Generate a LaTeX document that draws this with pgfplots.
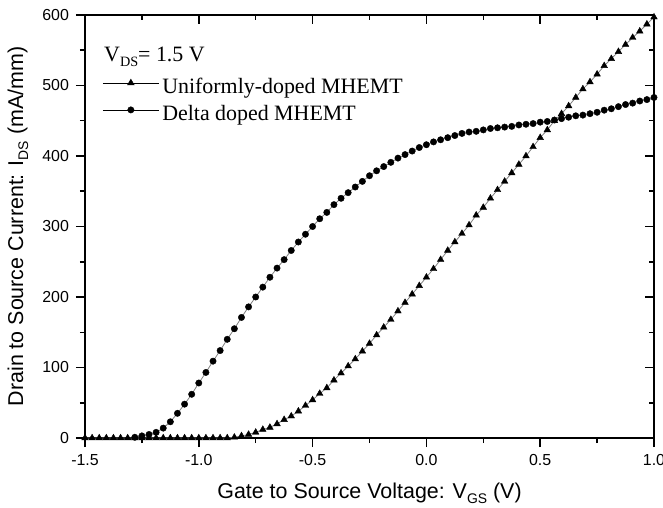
\documentclass[border=0pt]{standalone}
\usepackage{fontspec}
\setmainfont{Liberation Sans}
\newfontfamily\tms{Liberation Serif}
\usepackage{pgfplots}
\usepackage{pgfplotstable}
\pgfplotsset{compat=1.18}

% uniformly-doped MHEMT (triangles)
\pgfplotstableread{
x ids
-1.5 0
-1.46875 0
-1.4375 0
-1.40625 0
-1.375 0
-1.34375 0
-1.3125 0
-1.28125 0
-1.25 0
-1.21875 0
-1.1875 0
-1.15625 0
-1.125 0
-1.09375 0
-1.0625 0
-1.03125 0
-1.0 0
-0.96875 0
-0.9375 0
-0.90625 0
-0.875 0
-0.84375 1
-0.8125 3
-0.78125 5
-0.75 8
-0.71875 12
-0.6875 15
-0.65625 20
-0.625 26
-0.59375 31
-0.5625 38
-0.53125 46
-0.5 54
-0.46875 63
-0.4375 71
-0.40625 82
-0.375 92
-0.34375 102
-0.3125 112
-0.28125 123
-0.25 134
-0.21875 146
-0.1875 157
-0.15625 168
-0.125 180
-0.09375 192
-0.0625 204
-0.03125 216
0 228
0.03125 240
0.0625 253
0.09375 266
0.125 278
0.15625 290
0.1875 302
0.21875 316
0.25 327
0.28125 340
0.3125 352
0.34375 364
0.375 376
0.40625 388
0.4375 400
0.46875 413
0.5 426
0.53125 437
0.5625 450
0.59375 460
0.625 471
0.65625 483
0.6875 495
0.71875 505
0.75 516
0.78125 528
0.8125 538
0.84375 548
0.875 558
0.90625 568
0.9375 577
0.96875 587
1.0 597
}\uniform

% delta doped MHEMT (circles)
\pgfplotstableread{
x ids
-1.28125 1
-1.25 3
-1.21875 5
-1.1875 8
-1.15625 14
-1.125 23
-1.09375 35
-1.0625 48
-1.03125 62
-1.0 78
-0.96875 93
-0.9375 109
-0.90625 124
-0.875 140
-0.84375 155
-0.8125 171
-0.78125 186
-0.75 200
-0.71875 214
-0.6875 228
-0.65625 241
-0.625 253
-0.59375 266
-0.5625 278
-0.53125 289
-0.5 300
-0.46875 311
-0.4375 320
-0.40625 331
-0.375 340
-0.34375 348
-0.3125 356
-0.28125 364
-0.25 372
-0.21875 379
-0.1875 385
-0.15625 391
-0.125 397
-0.09375 402
-0.0625 407
-0.03125 412
0 416
0.03125 420
0.0625 423
0.09375 426
0.125 429
0.15625 432
0.1875 434
0.21875 435
0.25 437
0.28125 439
0.3125 440
0.34375 441
0.375 442
0.40625 444
0.4375 445
0.46875 446
0.5 448
0.53125 449
0.5625 451
0.59375 453
0.625 455
0.65625 457
0.6875 458
0.71875 460
0.75 462
0.78125 465
0.8125 467
0.84375 470
0.875 473
0.90625 475
0.9375 478
0.96875 480
1.0 483
}\deltadoped

\pgfplotsset{
  frame/.style={
    scale only axis,
    width=284.5bp, height=211.5bp,
    xmin=-1.5, xmax=1.0, ymin=0, ymax=600,
    xtick={-1.5,-1,-0.5,0,0.5,1}, minor x tick num=1,
    ytick={0,100,200,300,400,500,600}, minor y tick num=1,
    axis line style={line width=0.75bp},
    every tick/.style={line width=0.75bp, black},
    major tick length=4.5bp, minor tick length=2.5bp,
  }
}

\newcommand{\sub}[1]{\raisebox{-0.45ex}{\fontsize{0.65em}{1em}\selectfont #1}}

\begin{document}
\begin{tikzpicture}
\begin{axis}[frame, name=ax,
  axis x line*=bottom, axis y line*=left,
  tick align=outside,
  /pgf/number format/assume math mode=true,
  xticklabel style={/pgf/number format/.cd, fixed, fixed zerofill, precision=1},
  ticklabel style={font=\fontsize{8}{9.5}\selectfont},
  xlabel={Gate to Source Voltage: V\sub{GS} (V)},
  ylabel={Drain to Source Current: I\sub{DS} (mA/mm)},
  label style={font=\fontsize{10.75}{12.5}\selectfont},
  xlabel style={at={(axis description cs:0.5,0)}, anchor=center, yshift=-27.5bp},
  ylabel style={at={(axis description cs:0,0.5)}, anchor=center, yshift=33.5bp},
  legend style={at={(axis description cs:0.030,0.8605)}, anchor=north west,
    draw=none, fill=none, inner sep=0pt, row sep=0pt,
    font=\tms\fontsize{11}{12.5}\selectfont,
    nodes={inner xsep=1.5bp, inner ysep=0.25bp, text height=9.5bp, text depth=3.5bp}},
  legend cell align=left,
  legend image code/.code={
    \draw[mark repeat=2, mark phase=2, #1, draw=black, line width=0.4bp]
      plot coordinates {(0bp,2.5bp) (14bp,2.5bp) (28bp,2.5bp)};},
]
\addplot[draw=gray, line width=0.4bp, mark=triangle*, mark size=1.9bp,
  mark options={solid, fill=black, draw=black, line width=0.2bp}]
  table[x=x, y=ids] {\uniform};
\addlegendentry{Uniformly-doped MHEMT}
\addplot[draw=gray, line width=0.4bp, mark=*, mark size=1.6bp,
  mark options={solid, fill=black, draw=black, line width=0.2bp}]
  table[x=x, y=ids] {\deltadoped};
\addlegendentry{Delta doped MHEMT}
\node[anchor=base west, font=\tms\fontsize{11}{12.5}\selectfont, inner sep=0pt]
  at (axis description cs:0.033,0.889) {V\sub{DS}= 1.5 V};
\end{axis}
\begin{axis}[frame,
  axis x line*=top, axis y line*=right,
  tick align=inside,
  xticklabels={}, yticklabels={},
]
\end{axis}
\pgfresetboundingbox
\useasboundingbox ([xshift=-42.5bp,yshift=-35bp]ax.south west) rectangle ([xshift=4.5bp,yshift=7.5bp]ax.north east);
\end{tikzpicture}
\end{document}
